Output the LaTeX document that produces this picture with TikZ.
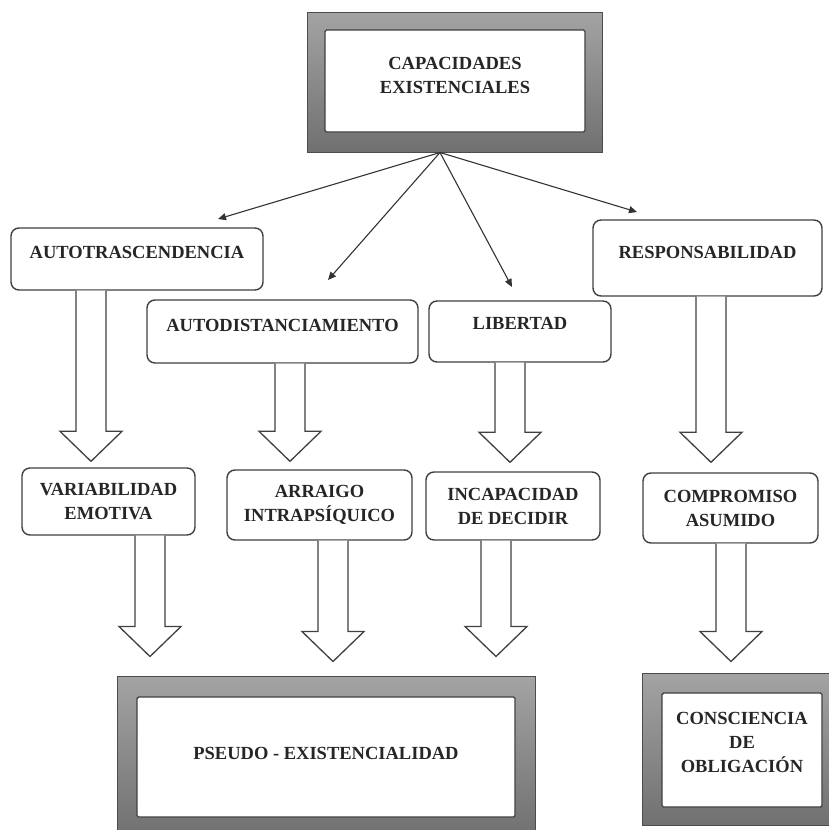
\documentclass[tikz,border=0pt]{standalone}
\usepackage{fontspec}
\setmainfont{Liberation Serif}
\usetikzlibrary{calc,arrows.meta}

\newcommand{\bigarrow}[4]{%
  \draw[hollow] let \p1=(#1.south), \p2=(#2.north) in
    (#3pt-15pt,\y1) -- (#3pt-15pt,\y2+#4pt+30pt) -- (#3pt-31pt,\y2+#4pt+30pt)
    -- (#3pt,\y2+#4pt) -- (#3pt+31pt,\y2+#4pt+30pt) -- (#3pt+15pt,\y2+#4pt+30pt)
    -- (#3pt+15pt,\y1);}

\begin{document}
\begin{tikzpicture}[x=1pt, y=-1pt,
    font=\fontsize{18.5}{24}\selectfont\bfseries,
    box/.style={draw=black!75, line width=1.4pt, rounded corners=8pt, fill=white,
      align=center, inner sep=0pt, text=black!85},
    frame/.style={draw=black!70, line width=1pt, top color=black!36, bottom color=black!56,
      inner sep=0pt},
    inbox/.style={draw=black!75, line width=1.4pt, rounded corners=1.5pt, fill=white,
      align=center, inner sep=0pt, text=black!85},
    thin/.style={-{Triangle[length=8pt,width=7pt]}, line width=1.1pt, draw=black!80},
    hollow/.style={draw=black!75, line width=1.3pt, fill=white}]
  \useasboundingbox (0,0) rectangle (829,830);

  \node[frame, minimum width=295, minimum height=140] (capacframe) at (454.5,82) {};
  \node[inbox, minimum width=260, minimum height=102, text depth=12pt] (capac) at (455,81)
    {CAPACIDADES\\EXISTENCIALES};

  \node[box, minimum width=252, minimum height=62, text depth=14pt] (autotras) at (137,259)
    {AUTOTRASCENDENCIA};
  \node[box, minimum width=271, minimum height=63, text depth=13pt] (autodist) at (282.5,331.5)
    {AUTODISTANCIAMIENTO};
  \node[box, minimum width=182, minimum height=61, text depth=17pt] (libertad) at (520,331.5)
    {LIBERTAD};
  \node[box, minimum width=229, minimum height=76, text depth=11pt] (resp) at (707.5,258)
    {RESPONSABILIDAD};

  \node[box, minimum width=173, minimum height=67] (variab) at (108.5,501.5)
    {VARIABILIDAD\\EMOTIVA};
  \node[box, minimum width=185, minimum height=70] (arraigo) at (319.5,505)
    {ARRAIGO\\INTRAPSÍQUICO};
  \node[box, minimum width=174, minimum height=68] (incap) at (513,506)
    {INCAPACIDAD\\DE DECIDIR};
  \node[box, minimum width=175, minimum height=70] (compromiso) at (730.5,508)
    {COMPROMISO\\ASUMIDO};

  \node[frame, minimum width=418, minimum height=161] (pseudoframe) at (326,756.5) {};
  \node[inbox, minimum width=378, minimum height=120, text depth=8pt] (pseudo) at (326,757)
    {PSEUDO - EXISTENCIALIDAD};
  \node[frame, minimum width=200, minimum height=152] (conscframe) at (742,749) {};
  \node[inbox, minimum width=160, minimum height=114, text depth=15pt] (consc) at (742,750)
    {CONSCIENCIA\\DE\\OBLIGACIÓN};

  \coordinate (hub) at ($(capacframe.south)+(-14.5,0)$);
  \coordinate (tipautotras) at (218,219);
  \coordinate (tipautodist) at (328,280);
  \coordinate (tiplibertad) at (512,287);
  \coordinate (tipresp) at (637,212);
  \draw[thin] (hub) -- (tipautotras);
  \draw[thin] (hub) -- (tipautodist);
  \draw[thin] (hub) -- (tiplibertad);
  \draw[thin] (hub) -- (tipresp);

  \bigarrow{autotras}{variab}{91}{6}
  \bigarrow{autodist}{arraigo}{290}{8}
  \bigarrow{libertad}{incap}{510}{9}
  \bigarrow{resp}{compromiso}{711}{10}
  \bigarrow{variab}{pseudoframe}{150}{19}
  \bigarrow{arraigo}{pseudoframe}{333}{14}
  \bigarrow{incap}{pseudoframe}{496}{19}
  \bigarrow{compromiso}{conscframe}{731}{11}
\end{tikzpicture}
\end{document}
